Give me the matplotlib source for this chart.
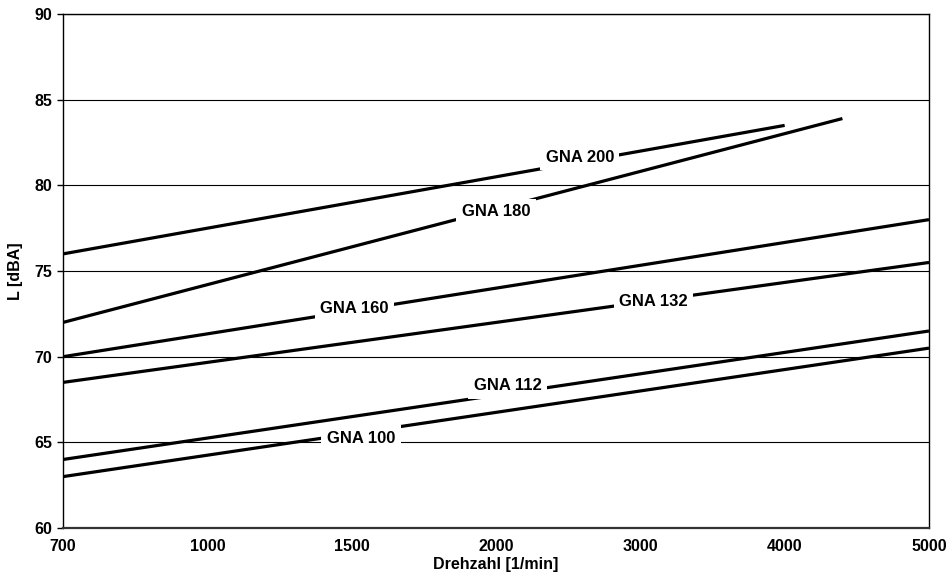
import matplotlib.pyplot as plt
import numpy as np

plt.rcParams['font.family'] = ['Liberation Sans', 'DejaVu Sans']
plt.rcParams['font.weight'] = 'bold'

# x axis categories (evenly spaced like the original chart)
rpm_ticks = [700, 1000, 1500, 2000, 3000, 4000, 5000]
tick_pos = np.arange(len(rpm_ticks), dtype=float)

# series: rpm endpoints and level in dBA
names = ['GNA 200', 'GNA 180', 'GNA 160', 'GNA 132', 'GNA 112', 'GNA 100']
rpm = [[700, 4000], [700, 4400], [700, 5000], [700, 5000], [700, 5000], [700, 5000]]
level = [[76, 83.5], [72, 83.9], [70, 78], [68.5, 75.5], [64, 71.5], [63, 70.5]]

# label positions (rpm, dBA)
lab_rpm = [2580, 2000, 1510, 3090, 2080, 1533]
lab_L = [81.65, 78.45, 72.8, 73.2, 68.3, 65.25]


def fwd(x):
    return np.interp(x, rpm_ticks, tick_pos)


def inv(i):
    return np.interp(i, tick_pos, rpm_ticks)


fig, ax = plt.subplots(figsize=[9.47, 5.85], dpi=100)
fig.subplots_adjust(left=0.0665, right=0.981, top=0.976, bottom=0.0974)
ax.set_xscale('function', functions=(fwd, inv))
ax.set_xlim(700, 5000)
ax.set_ylim(60, 90)

for r, L in zip(rpm, level):
    ax.plot(r, L, color='black', lw=2.3, solid_capstyle='butt', zorder=3)

for n, x, y in zip(names, lab_rpm, lab_L):
    ax.text(x, y, n, ha='center', va='center', fontsize=12, fontweight='bold', zorder=4,
            bbox=dict(facecolor='white', edgecolor='none', pad=4))

ax.set_xticks(rpm_ticks)
ax.set_xticklabels([str(v) for v in rpm_ticks])
ax.set_xticks([1500, 3000], minor=True)
ax.tick_params(axis='x', which='both', length=0, labelsize=11.5, pad=8)
ax.set_yticks(np.arange(60, 91, 5))
ax.tick_params(axis='y', length=4, width=1, labelsize=11.5, direction='out')
ax.xaxis.grid(True, which='minor', color='black', lw=0.8)
ax.yaxis.grid(True, which='major', color='black', lw=0.8)
ax.set_axisbelow(True)
for s in ax.spines.values():
    s.set_color('black')
    s.set_linewidth(1)
ax.spines['bottom'].set_linewidth(1.6)
ax.spines['bottom'].set_color('#333333')

ax.set_xlabel('Drehzahl [1/min]', fontsize=11.5, fontweight='bold', labelpad=2)
ax.set_ylabel('L [dBA]', fontsize=11.5, fontweight='bold', labelpad=8)

plt.savefig('out.png', dpi=100)
